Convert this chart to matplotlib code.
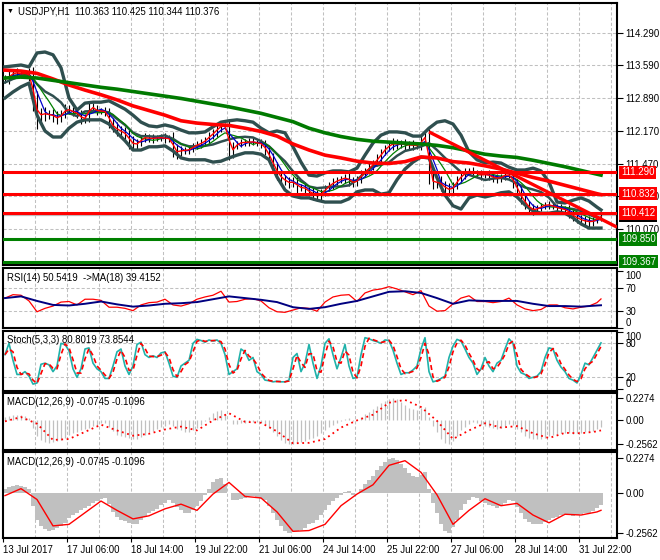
import matplotlib
matplotlib.use('Agg')
import matplotlib.pyplot as plt
import numpy as np
import pandas as pd

plt.rcParams['font.family'] = ['Liberation Sans', 'DejaVu Sans']
FS = 6.9

# ---------------- data (2-hour steps, 150 bars) ----------------
close = [
    113.30, 113.38, 113.44, 113.42, 113.40, 113.43, 113.36, 112.80, 112.48, 112.58,
    112.52, 112.55, 112.48, 112.45, 112.55, 112.66, 112.62, 112.58, 112.55, 112.42,
    112.48, 112.72, 112.65, 112.60, 112.62, 112.58, 112.35, 112.25, 112.20, 112.16,
    112.10, 111.95, 111.88, 111.92, 112.02, 112.05, 112.00, 112.04, 112.02, 112.05,
    112.00, 112.03, 111.75, 111.72, 111.78, 111.75, 111.80, 111.85, 111.90, 111.92,
    112.00, 112.08, 112.15, 112.25, 112.30, 112.28, 111.70, 111.85, 111.90, 111.95,
    111.92, 111.96, 111.93, 111.92, 111.90, 111.75, 111.60, 111.40, 111.25, 111.15,
    111.10, 111.05, 111.10, 110.95, 110.98, 110.92, 110.85, 110.82, 110.78, 110.85,
    110.95, 111.02, 111.08, 111.12, 111.15, 111.18, 111.10, 111.05, 111.15, 111.25,
    111.33, 111.40, 111.50, 111.60, 111.72, 111.82, 111.88, 111.92, 111.88, 111.93,
    111.86, 111.90, 111.85, 111.88, 111.98, 112.10, 111.15, 111.05, 111.10, 111.00,
    110.95, 110.90, 111.00, 111.15, 111.22, 111.30, 111.32, 111.28, 111.25, 111.22,
    111.26, 111.20, 111.18, 111.15, 111.20, 111.25, 111.22, 111.05, 110.88, 110.72,
    110.60, 110.50, 110.48, 110.52, 110.56, 110.60, 110.58, 110.55, 110.52, 110.50,
    110.48, 110.40, 110.33, 110.30, 110.25, 110.24, 110.22, 110.25, 110.30, 110.376]

wick = [
    0.08, 0.10, 0.08, 0.10, 0.08, 0.07, 0.10, 0.20, 0.25, 0.10,
    0.12, 0.08, 0.10, 0.12, 0.08, 0.10, 0.08, 0.08, 0.10, 0.08,
    0.06, 0.10, 0.06, 0.08, 0.06, 0.08, 0.10, 0.10, 0.12, 0.08,
    0.10, 0.15, 0.12, 0.08, 0.06, 0.08, 0.06, 0.08, 0.06, 0.06,
    0.08, 0.06, 0.12, 0.15, 0.08, 0.06, 0.06, 0.08, 0.06, 0.08,
    0.06, 0.08, 0.08, 0.10, 0.10, 0.06, 0.15, 0.10, 0.06, 0.06,
    0.06, 0.06, 0.06, 0.06, 0.08, 0.08, 0.10, 0.10, 0.12, 0.10,
    0.08, 0.10, 0.08, 0.10, 0.06, 0.10, 0.08, 0.12, 0.10, 0.08,
    0.06, 0.06, 0.08, 0.06, 0.06, 0.08, 0.10, 0.08, 0.06, 0.08,
    0.06, 0.08, 0.06, 0.08, 0.08, 0.06, 0.08, 0.10, 0.08, 0.06,
    0.08, 0.06, 0.08, 0.06, 0.10, 0.10, 0.12, 0.12, 0.10, 0.12,
    0.10, 0.12, 0.08, 0.06, 0.06, 0.08, 0.06, 0.08, 0.06, 0.10,
    0.06, 0.08, 0.10, 0.08, 0.06, 0.08, 0.06, 0.10, 0.10, 0.12,
    0.10, 0.08, 0.10, 0.06, 0.06, 0.06, 0.08, 0.06, 0.06, 0.08,
    0.06, 0.10, 0.08, 0.10, 0.08, 0.10, 0.12, 0.08, 0.06, 0.06]

# Bollinger bands, sampled every 2 bars (+ last bar)
bb_upper = [
    113.56, 113.58, 113.60, 113.56, 113.86, 113.88, 113.82, 113.54, 112.89, 112.63,
    112.78, 112.80, 112.80, 112.83, 112.74, 112.65, 112.52, 112.37, 112.29, 112.27,
    112.31, 112.27, 112.20, 112.14, 112.14, 112.16, 112.27, 112.37, 112.40, 112.42,
    112.40, 112.37, 112.24, 112.14, 112.18, 112.14, 111.84, 111.51, 111.23, 111.21,
    111.28, 111.32, 111.32, 111.30, 111.38, 111.66, 111.92, 112.09, 112.16, 112.16,
    112.14, 112.07, 112.07, 112.24, 112.37, 112.40, 112.33, 112.09, 111.73, 111.56,
    111.49, 111.51, 111.49, 111.40, 111.34, 111.34, 111.38, 111.32, 111.08, 110.65,
    110.63, 110.69, 110.74, 110.67, 110.54, 110.48]
bb_lower = [
    112.89, 113.02, 113.13, 113.21, 112.52, 112.18, 112.05, 112.05, 112.24, 112.37,
    112.42, 112.42, 112.42, 112.33, 112.14, 111.97, 111.77, 111.77, 111.84, 111.84,
    111.86, 111.75, 111.60, 111.56, 111.56, 111.56, 111.51, 111.53, 111.60, 111.66,
    111.71, 111.71, 111.68, 111.56, 111.19, 110.91, 110.78, 110.74, 110.74, 110.69,
    110.65, 110.65, 110.65, 110.72, 110.87, 110.91, 110.91, 110.82, 110.85, 111.13,
    111.36, 111.51, 111.62, 111.60, 111.17, 110.80, 110.57, 110.50, 110.74, 110.80,
    110.76, 110.80, 110.85, 110.87, 110.76, 110.59, 110.46, 110.41, 110.41, 110.44,
    110.41, 110.31, 110.18, 110.09, 110.09, 110.09]

# slow moving averages, sampled every 4 bars (+ last bar)
ma_red = [113.49, 113.47, 113.42, 113.30, 113.17, 113.06, 112.96, 112.85, 112.72, 112.62,
          112.52, 112.40, 112.35, 112.32, 112.30, 112.24, 112.17, 112.07, 111.90, 111.77,
          111.66, 111.60, 111.53, 111.49, 111.48, 111.52, 111.62, 111.60, 111.52, 111.49,
          111.43, 111.36, 111.27, 111.18, 111.10, 111.01, 110.92, 110.83, 110.81]
ma_green = [113.32, 113.34, 113.32, 113.27, 113.22, 113.17, 113.12, 113.08, 113.03, 112.98,
            112.93, 112.88, 112.82, 112.76, 112.70, 112.63, 112.56, 112.47, 112.38, 112.24,
            112.14, 112.06, 112.00, 111.96, 111.94, 111.92, 111.90, 111.87, 111.82, 111.75,
            111.68, 111.64, 111.61, 111.55, 111.48, 111.41, 111.33, 111.25, 111.23]

sr_red = [111.290, 110.832, 110.412]
sr_green = [109.850, 109.367]
bid = 110.376
trend_idx = [106, 153]
trend_price = [112.16, 110.11]

price_ticks = [114.290, 113.590, 112.890, 112.170, 111.470, 110.770, 110.070]

rsi = [52, 58, 57, 47, 28, 34, 38, 45, 46, 40,
       50, 50, 48, 36, 36, 34, 30, 40, 44, 45,
       50, 40, 38, 42, 50, 54, 57, 64, 45, 46,
       50, 51, 47, 35, 28, 27, 31, 35, 34, 29,
       45, 54, 57, 58, 46, 61, 66, 68, 72, 68,
       63, 58, 65, 38, 29, 30, 42, 52, 56, 46,
       46, 44, 46, 52, 40, 33, 30, 32, 40, 40,
       35, 33, 36, 38, 44, 50.54]
rsi_ma = [52, 55, 47, 40, 39, 42, 46, 41, 37, 39,
          42, 43, 45, 50, 55, 52, 49, 45, 36, 33,
          36, 42, 47, 55, 63, 64, 61, 52, 42, 48,
          47, 47, 47, 42, 38, 38, 37, 39, 39.42]

stoch = [60, 80, 50, 25, 25, 30, 22, 8, 10, 43,
         45, 42, 30, 40, 80, 78, 67, 35, 20, 35,
         70, 72, 45, 35, 30, 18, 18, 40, 65, 70,
         40, 25, 40, 78, 82, 60, 55, 58, 55, 63,
         65, 45, 22, 20, 40, 45, 50, 80, 87, 85,
         82, 86, 84, 86, 80, 60, 25, 30, 35, 70,
         65, 50, 55, 30, 25, 15, 14, 12, 13, 12,
         12, 15, 55, 62, 30, 45, 78, 45, 18, 40,
         80, 88, 60, 35, 55, 78, 40, 18, 20, 60,
         90, 88, 85, 83, 80, 86, 85, 68, 45, 25,
         28, 28, 33, 40, 70, 90, 30, 12, 14, 18,
         22, 55, 75, 87, 84, 70, 55, 45, 25, 35,
         55, 40, 30, 45, 50, 70, 88, 80, 40, 28,
         25, 18, 20, 22, 30, 55, 72, 70, 50, 38,
         30, 18, 15, 10, 25, 45, 42, 55, 68, 80.8]

macd = [0.03, 0.04, 0.05, 0.055, 0.05, 0.04, 0.025, -0.08, -0.17, -0.21,
        -0.23, -0.24, -0.235, -0.225, -0.21, -0.19, -0.16, -0.14, -0.13, -0.11,
        -0.095, -0.08, -0.065, -0.05, -0.035, -0.03, -0.07, -0.12, -0.155, -0.17,
        -0.18, -0.19, -0.2, -0.195, -0.175, -0.155, -0.13, -0.115, -0.1, -0.075,
        -0.06, -0.045, -0.06, -0.09, -0.11, -0.125, -0.125, -0.11, -0.08, -0.05,
        -0.01, 0.03, 0.07, 0.09, 0.10, 0.06, 0.0, -0.04, -0.04, -0.035,
        -0.03, -0.02, -0.02, -0.025, -0.035, -0.045, -0.08, -0.13, -0.17, -0.21,
        -0.24, -0.255, -0.25, -0.245, -0.235, -0.225, -0.20, -0.19, -0.17, -0.14,
        -0.11, -0.075, -0.05, -0.03, -0.01, 0.01, 0.015, -0.01, 0.0, 0.03,
        0.06, 0.085, 0.11, 0.15, 0.175, 0.20, 0.22, 0.2274, 0.215, 0.19,
        0.16, 0.13, 0.11, 0.105, 0.12, 0.135, 0.03, -0.06, -0.13, -0.2,
        -0.24, -0.2562, -0.22, -0.17, -0.11, -0.07, -0.04, -0.025, -0.03, -0.05,
        -0.06, -0.075, -0.085, -0.095, -0.085, -0.06, -0.045, -0.05, -0.09, -0.125,
        -0.165, -0.185, -0.195, -0.2, -0.2, -0.185, -0.17, -0.16, -0.15, -0.14,
        -0.135, -0.14, -0.145, -0.14, -0.135, -0.13, -0.125, -0.115, -0.095, -0.0745]
macd_sig = [-0.015, 0.03, -0.04, -0.21, -0.20, -0.125, -0.05, -0.11, -0.165, -0.145,
            -0.1, -0.07, -0.11, -0.005, 0.07, -0.02, -0.03, -0.12, -0.245, -0.24,
            -0.2, -0.08, -0.005, 0.055, 0.18, 0.21, 0.135, -0.01, -0.2, -0.11,
            -0.035, -0.08, -0.065, -0.14, -0.19, -0.135, -0.14, -0.12, -0.1096]

time_labels = ['13 Jul 2017', '17 Jul 06:00', '18 Jul 14:00', '19 Jul 22:00', '21 Jul 06:00',
               '24 Jul 14:00', '25 Jul 22:00', '27 Jul 06:00', '28 Jul 14:00', '31 Jul 22:00']

# ---------------- derived ----------------
n = len(close)
bars = np.arange(n)
idx2 = list(range(0, n, 2)) + [n - 1]
idx4 = list(range(0, n, 4)) + [n - 1]
c = np.array(close)
o = np.r_[c[0], c[:-1]]
w = np.array(wick)
hi = np.maximum(o, c) + w
lo = np.minimum(o, c) - w
cs = pd.Series(c)
ma_fast = cs.rolling(2, min_periods=1).mean()
ma_mid = cs.rolling(4, min_periods=1).mean()
ma_slow = cs.rolling(7, min_periods=1).mean()
bb_mid = (np.array(bb_upper) + np.array(bb_lower)) / 2
stoch_sig = pd.Series(stoch).rolling(2, min_periods=1).mean()

# ---------------- figure ----------------
W, H = 660, 560
fig = plt.figure(figsize=(6.6, 5.6), dpi=100)
fig.patch.set_facecolor('white')

def rect(top, bottom, left=3, right=617):
    return [left / W, 1 - bottom / H, (right - left) / W, (bottom - top) / H]

ax_main = fig.add_axes(rect(3, 265))
ax_rsi = fig.add_axes(rect(268, 328))
ax_sto = fig.add_axes(rect(331, 391))
ax_m1 = fig.add_axes(rect(393, 450))
ax_m2 = fig.add_axes(rect(452, 538))
axes = [ax_main, ax_rsi, ax_sto, ax_m1, ax_m2]

GRID = '#C0C0C0'
DASH = (0, (3, 2))
grid_x = np.arange(7.5, 153, 8)

for ax in axes:
    ax.set_facecolor('white')
    ax.set_xlim(-0.5, 153)
    for s in ax.spines.values():
        s.set_linewidth(1.5)
        s.set_color('black')
    for gx in grid_x:
        ax.axvline(gx, color=GRID, lw=0.75, ls=DASH, zorder=0)
    ax.yaxis.tick_right()
    ax.tick_params(axis='y', direction='out', length=4, width=0.8, pad=2,
                   labelsize=FS, colors='black')
    ax.set_xticks([])

# ---- main panel ----
ax = ax_main
ax.set_ylim(109.295, 114.935)
for p in price_ticks:
    ax.axhline(p, color=GRID, lw=0.75, ls=DASH, zorder=0)
ax.set_yticks(price_ticks)
ax.set_yticklabels([f'{p:.3f}' for p in price_ticks])
ax.axhline(bid, color='#C0C0C0', lw=0.9, zorder=1)
ax.vlines(bars, lo, hi, color='black', lw=0.8, zorder=2)
BBC = '#2F4F4F'
ax.plot(idx2, bb_upper, color=BBC, lw=2.4, zorder=3, solid_joinstyle='round')
ax.plot(idx2, bb_lower, color=BBC, lw=2.4, zorder=3, solid_joinstyle='round')
ax.plot(idx2, bb_mid, color=BBC, lw=1.8, zorder=3, solid_joinstyle='round')
ax.plot(bars, ma_slow, color='#008000', lw=0.9, zorder=3.4)
ax.plot(bars, ma_mid, color='#0000CD', lw=0.9, zorder=3.5)
ax.plot(bars, ma_fast, color='#FF0000', lw=1.0, zorder=3.6)
ax.plot(idx4, ma_red, color='#FF0000', lw=2.6, zorder=4)
ax.plot(idx4, ma_green, color='#007A00', lw=2.6, zorder=4)
for p in sr_red:
    ax.axhline(p, color='#FF0000', lw=2.2, zorder=5)
for p in sr_green:
    ax.axhline(p, color='#008000', lw=2.2, zorder=5)
ax.plot(trend_idx, trend_price, color='#FF0000', lw=2.4, zorder=5, solid_capstyle='butt')

ytr = ax.get_yaxis_transform()
ax.text(1.0065, bid, f'{bid:.3f}', transform=ytr, ha='left', va='center', fontsize=FS,
        color='white', zorder=9, clip_on=False,
        bbox=dict(boxstyle='square,pad=0.18', fc='black', ec='none'))
for p in sr_red:
    ax.text(1.0065, p, f'{p:.3f}', transform=ytr, ha='left', va='center', fontsize=FS,
            color='white', zorder=10, clip_on=False,
            bbox=dict(boxstyle='square,pad=0.18', fc='#FF0000', ec='none'))
for p in sr_green:
    ax.text(1.0065, p, f'{p:.3f}', transform=ytr, ha='left', va='center', fontsize=FS,
            color='white', zorder=10, clip_on=False,
            bbox=dict(boxstyle='square,pad=0.18', fc='#008000', ec='none'))

# ---- RSI ----
ax = ax_rsi
ax.set_ylim(-0.5, 104.8)
for lv in (70, 30):
    ax.axhline(lv, color=GRID, lw=0.75, ls=DASH, zorder=0)
ax.plot(idx2, rsi, color='#FF0000', lw=0.9, zorder=3)
ax.plot(idx4, rsi_ma, color='#000080', lw=1.4, zorder=4)
ax.set_yticks([100, 70, 30, 0])
ax.set_yticklabels(['100', '70', '30', '0'])
labs = ax.get_yticklabels()
labs[0].set_va('top')
labs[3].set_va('bottom')

# ---- Stochastic ----
ax = ax_sto
ax.set_ylim(-4.2, 101.8)
for lv in (80, 20):
    ax.axhline(lv, color=GRID, lw=0.75, ls=DASH, zorder=0)
ax.plot(bars, stoch, color='#20B2AA', lw=1.2, zorder=3)
ax.plot(bars, stoch_sig, color='#FF0000', lw=1.2, ls=(0, (3, 2)), zorder=4)
ax.set_yticks([100, 80, 20, 0])
ax.set_yticklabels(['100', '80', '20', '0'])
labs = ax.get_yticklabels()
labs[0].set_va('top')
labs[3].set_va('bottom')

# ---- MACD (lines) ----
macd_ticks = [0.2274, 0.0, -0.2562]
macd_lbls = ['0.2274', '0.00', '-0.2562']
ax = ax_m1
ax.set_ylim(-0.315, 0.282)
ax.vlines(bars, 0, macd, color='#C0C0C0', lw=0.9, zorder=2)
ax.plot(idx4, macd_sig, color='#FF0000', lw=1.3, ls=(0, (1, 2)), zorder=3)
ax.set_yticks(macd_ticks)
ax.set_yticklabels(macd_lbls)

# ---- MACD (filled) ----
ax = ax_m2
ax.set_ylim(-0.288, 0.266)
ax.bar(bars, macd, width=1.0, color='#C0C0C0', linewidth=0, zorder=2)
ax.plot(idx4, macd_sig, color='#FF0000', lw=1.0, zorder=3)
ax.set_yticks(macd_ticks)
ax.set_yticklabels(macd_lbls)
xt = [-0.5] + list(np.arange(15.5, 150, 16))
ax.set_xticks(xt)
ax.set_xticklabels(time_labels, fontsize=FS, ha='left')
ax.tick_params(axis='x', direction='out', length=3, width=0.8, pad=2, colors='black')

# ---- panel titles ----
def px_text(x, y, s):
    fig.text(x / W, 1 - y / H, s, fontsize=FS, va='center', ha='left', color='black')

fig.text(7 / W, 1 - 11 / H, '\u25BC', fontsize=5, va='center', ha='left', color='black')
px_text(18, 11, 'USDJPY,H1  110.363 110.425 110.344 110.376')
px_text(7, 278, 'RSI(14) 50.5419  ->MA(18) 39.4152')
px_text(7, 340, 'Stoch(5,3,3) 80.8019 73.8544')
px_text(7, 402, 'MACD(12,26,9) -0.0745 -0.1096')
px_text(7, 462, 'MACD(12,26,9) -0.0745 -0.1096')

fig.savefig('out.png', dpi=100, facecolor='white')
